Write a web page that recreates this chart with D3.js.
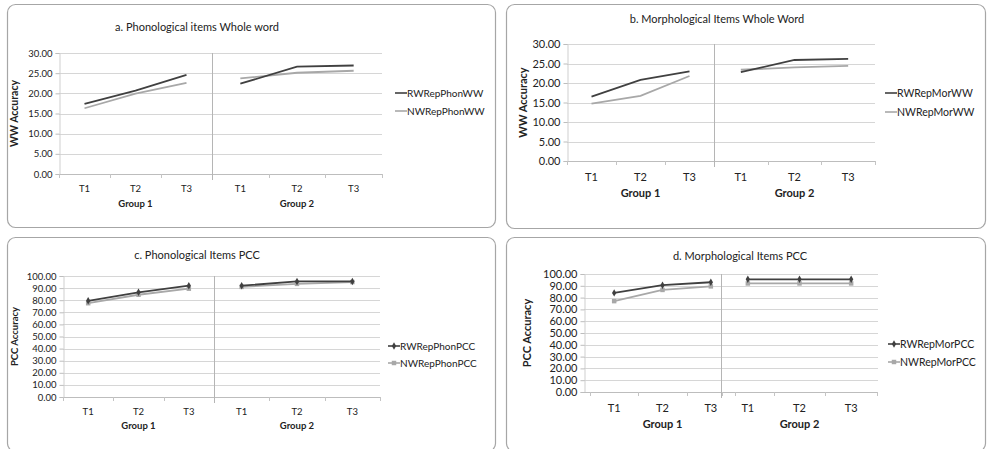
<!DOCTYPE html>
<html>
<head>
<meta charset="utf-8">
<script src="https://cdn.jsdelivr.net/npm/d3@7"></script>
<style>
  body { margin: 0; background: #fff; }
  svg { display: block; font-family: Lato, "Liberation Sans", sans-serif; }
</style>
</head>
<body>
<div id="chart"></div>
<script>
// categories
var times = ["T1", "T2", "T3"];
var groups = ["Group 1", "Group 2"];

// y tick labels
var wwTicks = [0, 5, 10, 15, 20, 25, 30];
var pccTicks = [0, 10, 20, 30, 40, 50, 60, 70, 80, 90, 100];

// a. Phonological items Whole word (G1 T1..T3, G2 T1..T3)
var rwRepPhonWW = [17.4, 20.7, 24.6, 22.4, 26.6, 26.9];
var nwRepPhonWW = [16.3, 19.9, 22.6, 23.7, 25.1, 25.6];

// b. Morphological Items Whole Word
var rwRepMorWW = [16.5, 20.8, 23.0, 22.8, 25.9, 26.2];
var nwRepMorWW = [14.7, 16.7, 21.8, 23.4, 24.0, 24.4];

// c. Phonological Items PCC
var rwRepPhonPCC = [79.5, 86.5, 92.0, 92.0, 95.5, 95.5];
var nwRepPhonPCC = [77.5, 84.5, 89.5, 91.0, 93.5, 95.0];

// d. Morphological Items PCC
var rwRepMorPCC = [84.0, 90.5, 93.0, 95.5, 95.5, 95.5];
var nwRepMorPCC = [77.0, 86.5, 89.5, 92.0, 92.0, 92.0];

var width = 987, height = 449;
var darkColor = "#404040", lightColor = "#a8a8a8";

var svg = d3.select("#chart").append("svg")
    .attr("width", width)
    .attr("height", height);

// panel layouts
var panels = [
  {
    title: "a. Phonological items Whole word", yLabel: "WW Accuracy",
    box: [7, 4, 488, 223], titleX: 197, titleY: 31, titleSize: 11,
    left: 59, right: 382, top: 53, bottom: 174, divider: 212,
    g1: [59, 212], g2: [212, 382], ymax: 30, ticks: wwTicks, fs: 9.5, ylFs: 10.5,
    yLabelX: 18, catY: 192, grpY: 207,
    legX: 395, legY: [93, 111], legFs: 10,
    names: ["RWRepPhonWW", "NWRepPhonWW"], series: [rwRepPhonWW, nwRepPhonWW], markers: false
  },
  {
    title: "b. Morphological Items Whole Word", yLabel: "WW Accuracy",
    box: [506, 4, 479, 224], titleX: 717, titleY: 23, titleSize: 11,
    left: 567, right: 875, top: 44, bottom: 161, divider: 714,
    g1: [567, 714], g2: [714, 875], ymax: 30, ticks: wwTicks, fs: 11, ylFs: 11,
    yLabelX: 527, catY: 181, grpY: 197,
    legX: 885, legY: [93, 112], legFs: 10.5,
    names: ["RWRepMorWW", "NWRepMorWW"], series: [rwRepMorWW, nwRepMorWW], markers: false
  },
  {
    title: "c. Phonological Items PCC", yLabel: "PCC Accuracy",
    box: [7, 237, 488, 214], titleX: 197, titleY: 259, titleSize: 11,
    left: 63, right: 380, top: 276, bottom: 397, divider: 214,
    g1: [63, 214], g2: [214, 380], ymax: 100, ticks: pccTicks, fs: 9.5, ylFs: 9.5,
    yLabelX: 18, catY: 415, grpY: 429,
    legX: 388, legY: [346, 363], legFs: 10,
    names: ["RWRepPhonPCC", "NWRepPhonPCC"], series: [rwRepPhonPCC, nwRepPhonPCC], markers: true
  },
  {
    title: "d. Morphological Items PCC", yLabel: "PCC Accuracy",
    box: [506, 237, 479, 214], titleX: 740, titleY: 260, titleSize: 11,
    left: 584, right: 878, top: 274, bottom: 392, divider: 721,
    g1: [590, 735], g2: [722, 877], ymax: 100, ticks: pccTicks, fs: 11, ylFs: 11,
    yLabelX: 531, catY: 412, grpY: 428,
    legX: 888, legY: [344, 362], legFs: 10.5,
    names: ["RWRepMorPCC", "NWRepMorPCC"], series: [rwRepMorPCC, nwRepMorPCC], markers: true
  }
];

panels.forEach(function (p) {
  var g = svg.append("g");

  // rounded frame
  g.append("rect")
      .attr("x", p.box[0] + 0.5).attr("y", p.box[1] + 0.5)
      .attr("width", p.box[2]).attr("height", p.box[3])
      .attr("rx", 8).attr("ry", 8)
      .attr("fill", "#fff")
      .attr("stroke", "#a6a6a6")
      .attr("stroke-width", 1.2);

  var y = d3.scaleLinear().domain([0, p.ymax]).range([p.bottom, p.top]);
  var x1 = d3.scaleBand().domain(times).range(p.g1);
  var x2 = d3.scaleBand().domain(times).range(p.g2);
  var xPos = function (i) {
    var s = i < 3 ? x1 : x2;
    return s(times[i % 3]) + s.bandwidth() / 2;
  };

  // gridlines
  g.selectAll("line.grid")
      .data(p.ticks.filter(function (t) { return t > 0; }))
      .enter().append("line")
      .attr("class", "grid")
      .attr("x1", p.left).attr("x2", p.right)
      .attr("y1", function (d) { return Math.round(y(d)) + 0.5; })
      .attr("y2", function (d) { return Math.round(y(d)) + 0.5; })
      .attr("stroke", "#d6d6d6").attr("stroke-width", 1);

  // y axis
  var yAxis = d3.axisLeft(y)
      .tickValues(p.ticks)
      .tickSize(4)
      .tickFormat(d3.format(".2f"));
  var ya = g.append("g")
      .attr("transform", "translate(" + (p.left + 0.5) + ",0)")
      .call(yAxis);
  ya.select(".domain").attr("stroke", "#cfcfcf");
  ya.selectAll(".tick line").attr("stroke", "#bdbdbd");
  ya.selectAll(".tick text")
      .attr("font-size", p.fs)
      .attr("font-family", "Lato, sans-serif")
      .attr("fill", "#222")
      .attr("x", -7);

  // x axis line
  g.append("line")
      .attr("x1", p.left).attr("x2", p.right)
      .attr("y1", Math.round(p.bottom) + 0.5).attr("y2", Math.round(p.bottom) + 0.5)
      .attr("stroke", "#bdbdbd");

  // category tick marks
  var bounds = [];
  [x1, x2].forEach(function (s) {
    times.forEach(function (t) { bounds.push(s(t)); });
    bounds.push(s.range()[1]);
  });
  g.selectAll("line.xtick")
      .data(bounds)
      .enter().append("line")
      .attr("class", "xtick")
      .attr("x1", function (d) { return Math.round(d) + 0.5; })
      .attr("x2", function (d) { return Math.round(d) + 0.5; })
      .attr("y1", p.bottom).attr("y2", p.bottom + 4)
      .attr("stroke", "#c4c4c4");

  // group divider
  g.append("line")
      .attr("x1", p.divider + 0.5).attr("x2", p.divider + 0.5)
      .attr("y1", p.top).attr("y2", p.bottom + 6)
      .attr("stroke", "#b5b5b5");

  // category labels
  var cats = times.concat(times);
  g.selectAll("text.cat")
      .data(cats)
      .enter().append("text")
      .attr("class", "cat")
      .attr("x", function (d, i) { return xPos(i); })
      .attr("y", p.catY)
      .attr("text-anchor", "middle")
      .attr("font-size", p.fs)
      .attr("fill", "#222")
      .text(function (d) { return d; });

  // group labels
  g.selectAll("text.grp")
      .data(groups)
      .enter().append("text")
      .attr("class", "grp")
      .attr("x", function (d, i) {
        var s = i === 0 ? x1 : x2;
        return (s.range()[0] + s.range()[1]) / 2;
      })
      .attr("y", p.grpY)
      .attr("text-anchor", "middle")
      .attr("font-size", p.fs)
      .attr("font-weight", "bold")
      .attr("fill", "#222")
      .text(function (d) { return d; });

  // title
  g.append("text")
      .attr("x", p.titleX).attr("y", p.titleY)
      .attr("text-anchor", "middle")
      .attr("font-size", p.titleSize)
      .attr("fill", "#222")
      .text(p.title);

  // y axis title
  g.append("text")
      .attr("transform", "translate(" + p.yLabelX + "," + ((p.top + p.bottom) / 2) + ") rotate(-90)")
      .attr("text-anchor", "middle")
      .attr("font-size", p.ylFs)
      .attr("font-weight", "bold")
      .attr("fill", "#222")
      .text(p.yLabel);

  var colors = [darkColor, lightColor];
  var markerType = function (k) { return k === 0 ? d3.symbolDiamond : d3.symbolSquare; };
  // draw light series first so the dark one is on top
  [1, 0].forEach(function (k) {
    var vals = p.series[k];
    [vals.slice(0, 3), vals.slice(3)].forEach(function (seg, gi) {
      g.append("path")
          .datum(seg)
          .attr("fill", "none")
          .attr("stroke", colors[k])
          .attr("stroke-width", 1.8)
          .attr("d", d3.line()
              .x(function (d, i) { return xPos(gi * 3 + i); })
              .y(function (d) { return y(d); }));
    });
    if (p.markers) {
      g.selectAll("path.mk" + k)
          .data(vals)
          .enter().append("path")
          .attr("class", "mk" + k)
          .attr("transform", function (d, i) { return "translate(" + xPos(i) + "," + y(d) + ")"; })
          .attr("d", d3.symbol().type(markerType(k)).size(k === 0 ? 16 : 20))
          .attr("fill", colors[k]);
    }
  });

  // legend
  p.names.forEach(function (name, k) {
    var ly = p.legY[k];
    g.append("line")
        .attr("x1", p.legX).attr("x2", p.legX + 12)
        .attr("y1", ly).attr("y2", ly)
        .attr("stroke", colors[k]).attr("stroke-width", 1.6);
    if (p.markers) {
      g.append("path")
          .attr("transform", "translate(" + (p.legX + 6) + "," + ly + ")")
          .attr("d", d3.symbol().type(markerType(k)).size(k === 0 ? 16 : 20))
          .attr("fill", colors[k]);
    }
    g.append("text")
        .attr("x", p.legX + 12).attr("y", ly)
        .attr("dy", "0.35em")
        .attr("font-size", p.legFs)
        .attr("fill", "#222")
        .text(name);
  });
});
</script>
</body>
</html>
